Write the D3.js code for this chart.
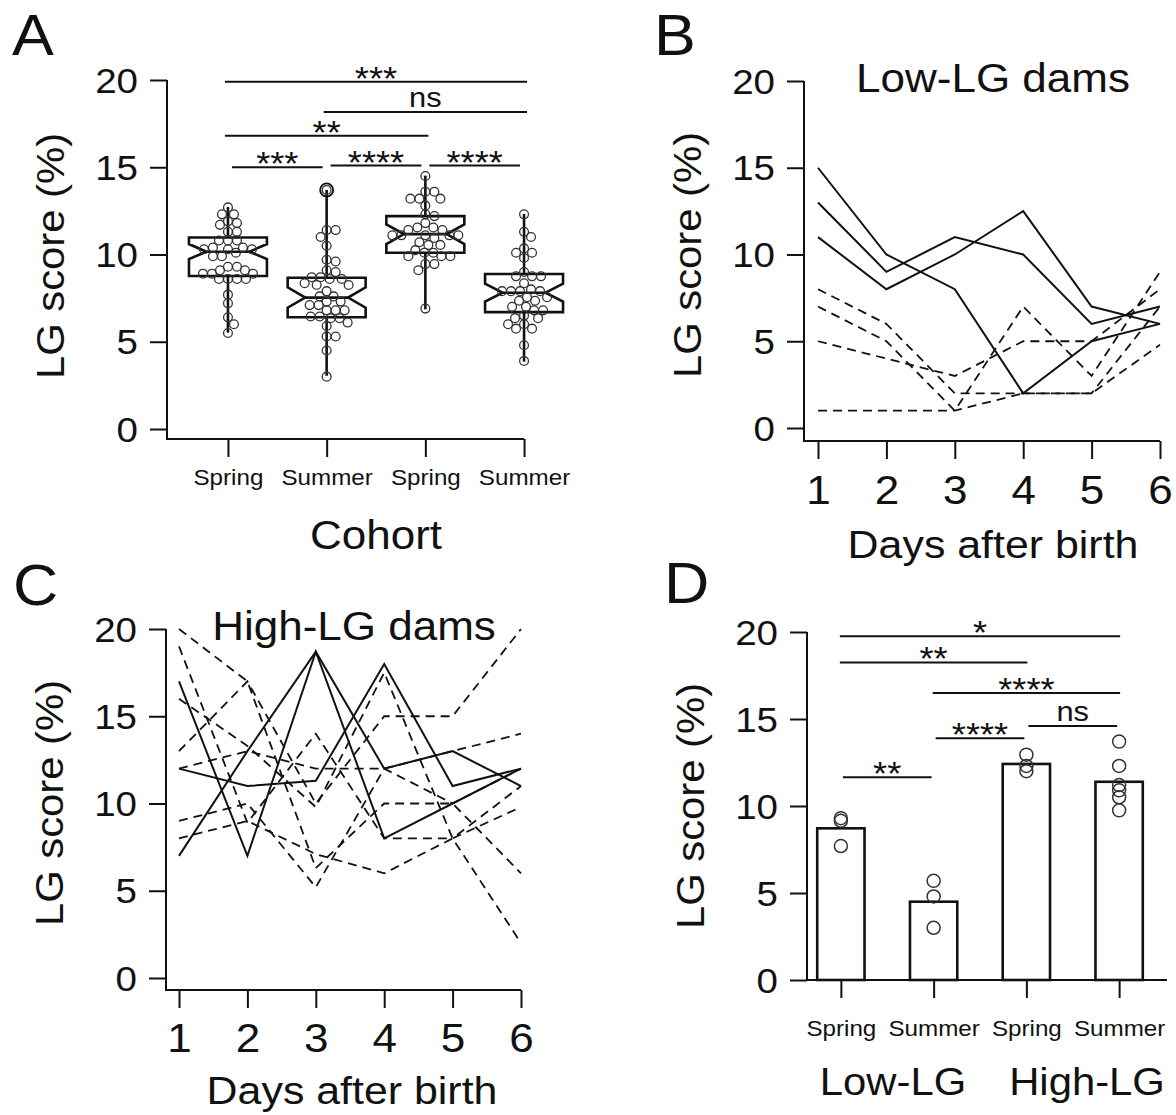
<!DOCTYPE html>
<html>
<head>
<meta charset="utf-8">
<script src="https://cdn.jsdelivr.net/npm/d3@7"></script>
<style>
  body { margin: 0; background: #fff; }
  svg { display: block; }
  text { font-family: "Liberation Sans", Arial, Helvetica, sans-serif; fill: #111; }
</style>
</head>
<body>
<svg id="fig" width="1176" height="1115"></svg>
<script>
// ---- data -----------------------------------------------------------------

const cohortLabels = ['Spring', 'Summer', 'Spring', 'Summer'];
const scoreTicks = [0, 5, 10, 15, 20];
const days = [1, 2, 3, 4, 5, 6];

// Panel A: LG score of every dam, per cohort.
const cohortScores = [
  [12.7, 12.3, 12.3, 11.9, 11.8, 11.7, 11.3, 11.3, 10.8, 10.8, 10.8, 10.4,
    10.4, 10.3, 10.3, 10.3, 10.1, 9.9, 9.9, 9.3, 9.3, 9.1, 9.1, 8.9, 8.9, 8.9,
    8.6, 8.6, 8.6, 8.6, 7.7, 7.2, 6.4, 6.0, 5.5],
  [13.7, 11.4, 11.4, 11.0, 10.5, 9.7, 9.6, 9.1, 9.0, 8.7, 8.7, 8.6, 8.6, 8.35,
    8.25, 8.25, 7.9, 7.6, 7.6, 7.3, 7.3, 7.1, 7.1, 6.8, 6.8, 6.8, 6.45, 6.45,
    6.35, 6.35, 6.1, 5.9, 5.3, 5.3, 4.5, 3.0],
  [14.5, 13.6, 13.6, 13.2, 13.2, 13.2, 12.8, 12.3, 12.2, 11.8, 11.55, 11.55,
    11.4, 11.4, 11.1, 11.1, 11.1, 11.1, 11.1, 10.95, 10.7, 10.55, 10.55, 10.25,
    10.1, 10.1, 9.9, 9.9, 9.9, 9.45, 9.45, 9.1, 6.9],
  [12.3, 11.3, 11.0, 10.35, 10.1, 10.1, 9.8, 9.0, 8.75, 8.75, 8.75, 8.35, 8.0,
    7.9, 7.9, 7.9, 7.9, 7.55, 7.55, 7.35, 7.35, 7.0, 7.0, 6.8, 6.8, 6.5, 6.35,
    6.35, 6.0, 6.0, 5.75, 5.75, 4.8, 3.9],
];

// Notched box summaries.
const boxMin = [5.52, 3.05, 6.86, 3.86];
const boxQ1 = [8.77, 6.4, 10.1, 6.7];
const boxMedian = [10.16, 7.53, 11.17, 7.81];
const boxQ3 = [10.97, 8.67, 12.2, 8.88];
const boxMax = [12.72, 13.7, 14.52, 12.32];
const notchLow = [9.74, 6.95, 10.6, 7.3];
const notchHigh = [10.6, 8.12, 11.72, 8.33];
const cohortOutliers = [[], [13.7], [], []];

const cohortTests = [
  {from: 0, to: 3, y: 19.9, label: '***'},
  {from: 1, to: 3, y: 18.17, label: 'ns'},
  {from: 0, to: 2, y: 16.8, label: '**'},
  {from: 0, to: 1, y: 15.0, label: '***'},
  {from: 1, to: 2, y: 15.1, label: '****'},
  {from: 2, to: 3, y: 15.1, label: '****'},
];

// Panel B: low-LG dams, days 1-6.
const lowSolid = [
  [15, 10, 8, 2, 5, 6],
  [13, 9, 11, 10, 6, 7],
  [11, 8, 10, 12.5, 7, 6],
];
const lowDashed = [
  [8, 6, 2, 2, 2, 4.8],
  [7, 5, 1, 7, 3, 9],
  [5, 4, 3, 5, 5, 8],
  [1, 1, 1, 2, 2, 7],
];

// Panel C: high-LG dams, days 1-6.
const highSolid = [
  [12, 11, 11.3, 18, 11, 12],
  [17, 7, 18.7, 8, 10, 12],
  [7, 13, 18.7, 12, 13, 11],
];
const highDashed = [
  [20, 17, 6.3, 10, 10, 6],
  [19, 8.9, 14, 8, 8, 9.8],
  [16, 13.3, 9.8, 17.5, 8, 2],
  [13, 17, 10, 15, 15, 20],
  [12, 13, 12, 12, 13, 14],
  [9, 10, 5.2, 12, 10, 12],
  [8, 9, 7.1, 6, 8, 11],
];

// Panel D: mean LG score per dam group.
const damScores = [
  [9.3, 9.15, 7.7],
  [5.7, 4.8, 3.0],
  [12.95, 12.3, 12.0],
  [13.7, 12.3, 11.2, 10.9, 10.5, 9.75],
];
const damTests = [
  {from: 0, to: 3, y: 19.75, label: '*'},
  {from: 0, to: 2, y: 18.25, label: '**'},
  {from: 1, to: 3, y: 16.5, label: '****'},
  {from: 2, to: 3, y: 14.6, label: 'ns'},
  {from: 1, to: 2, y: 13.9, label: '****'},
  {from: 0, to: 1, y: 11.65, label: '**'},
];

// ---- helpers --------------------------------------------------------------

const INK = '#111';
// The source figure's lettering is a little wider than Arial.
const STRETCH = 1.1;

const svg = d3.select('#fig');
svg.append('rect').attr('width', 1176).attr('height', 1115).attr('fill', '#fff');

function addText(parent, x, y, str, size, anchor = 'middle', angle = 0) {
  return parent.append('text')
    .attr('transform', `translate(${x},${y}) rotate(${angle}) scale(${STRETCH},1)`)
    .attr('text-anchor', anchor)
    .style('font-size', `${size}px`)
    .text(str);
}

// L-shaped frame: y axis from the top tick down to the x axis, then right.
function frame(g, x0, yTop, yBottom, xEnd) {
  g.append('path')
    .attr('d', `M${x0},${yTop} V${yBottom} H${xEnd}`)
    .attr('fill', 'none')
    .attr('stroke', INK)
    .attr('stroke-width', 2);
}

function yAxis(g, y, x0) {
  const ax = g.append('g')
    .attr('transform', `translate(${x0},0)`)
    .call(d3.axisLeft(y).tickValues(scoreTicks).tickSize(17));
  ax.select('.domain').remove();
  ax.selectAll('.tick line').attr('stroke', INK).attr('stroke-width', 2);
  ax.selectAll('.tick text')
    .attr('x', null)
    .attr('dy', null)
    .attr('transform', `translate(-29,12) scale(${STRETCH},1)`)
    .style('font-size', '35px');
}

function xAxis(g, x, y0, values, fmt, size, labelDy) {
  const ax = g.append('g')
    .attr('transform', `translate(0,${y0})`)
    .call(d3.axisBottom(x).tickValues(values).tickFormat(fmt).tickSize(18));
  ax.select('.domain').remove();
  ax.selectAll('.tick line').attr('stroke', INK).attr('stroke-width', 2);
  ax.selectAll('.tick text')
    .attr('y', null)
    .attr('dy', null)
    .attr('transform', `translate(0,${labelDy}) scale(${STRETCH},1)`)
    .style('font-size', `${size}px`);
}

function brackets(g, x, y, tests, adjInset, wideInset) {
  tests.forEach((t) => {
    const inset = Math.abs(t.to - t.from) === 1 ? adjInset : wideInset;
    const x1 = x(t.from) + inset;
    const x2 = x(t.to) - inset;
    const ly = y(t.y);
    g.append('line')
      .attr('x1', x1).attr('x2', x2)
      .attr('y1', ly).attr('y2', ly)
      .attr('stroke', INK)
      .attr('stroke-width', 2);
    const isNs = t.label === 'ns';
    addText(g, (x1 + x2) / 2, ly + (isNs ? -5 : 8), t.label, isNs ? 28 : 33);
  });
}

// Simple deterministic beeswarm: each point takes the x offset nearest to the
// centre line that does not collide with points already placed.
function swarm(values, cx, y, minDist) {
  const placed = [];
  const order = d3.range(values.length)
    .sort((a, b) => d3.descending(values[a], values[b]));
  order.forEach((i) => {
    const py = y(values[i]);
    let px = cx;
    for (let k = 0; k < 200; k++) {
      const dx = (k % 2 ? 1 : -1) * Math.ceil(k / 2);
      const free = placed.every(
        (p) => (p.x - (cx + dx)) ** 2 + (p.y - py) ** 2 >= minDist * minDist);
      if (free) {
        px = cx + dx;
        break;
      }
    }
    placed.push({x: px, y: py});
  });
  return placed;
}

function linePanel(g, x, y, solid, dashed) {
  const line = d3.line().x((d, i) => x(days[i])).y((d) => y(d));
  g.append('g').selectAll('path')
    .data(dashed)
    .join('path')
    .attr('d', line)
    .attr('fill', 'none')
    .attr('stroke', INK)
    .attr('stroke-width', 1.8)
    .attr('stroke-dasharray', '9,6');
  g.append('g').selectAll('path')
    .data(solid)
    .join('path')
    .attr('d', line)
    .attr('fill', 'none')
    .attr('stroke', INK)
    .attr('stroke-width', 2);
}

// ---- panel A: cohort box plots -------------------------------------------

const gA = svg.append('g');
const yA = d3.scaleLinear().domain([0, 20]).range([429, 80]);
const xA = d3.scalePoint().domain(d3.range(4)).range([178.6, 573.4]).padding(0.5);

frame(gA, 167, yA(20), 439, xA(3));
yAxis(gA, yA, 167);
xAxis(gA, xA, 439, xA.domain(), (i) => cohortLabels[i], 22, 46);

const halfBox = xA.step() * 0.395;
const halfNotch = halfBox * 0.55;

cohortScores.forEach((scores, i) => {
  const cx = xA(i);
  const box = gA.append('g');
  const stroke = (s) => s.attr('fill', 'none').attr('stroke', INK).attr('stroke-width', 2.6);

  box.append('path')
    .attr('d', [
      `M${cx - halfBox},${yA(boxQ3[i])}`,
      `H${cx + halfBox}`,
      `V${yA(notchHigh[i])}`,
      `L${cx + halfNotch},${yA(boxMedian[i])}`,
      `L${cx + halfBox},${yA(notchLow[i])}`,
      `V${yA(boxQ1[i])}`,
      `H${cx - halfBox}`,
      `V${yA(notchLow[i])}`,
      `L${cx - halfNotch},${yA(boxMedian[i])}`,
      `L${cx - halfBox},${yA(notchHigh[i])}`,
      'Z',
    ].join(' '))
    .call(stroke);
  box.append('line')
    .attr('x1', cx - halfNotch).attr('x2', cx + halfNotch)
    .attr('y1', yA(boxMedian[i])).attr('y2', yA(boxMedian[i]))
    .call(stroke);
  box.append('line')
    .attr('x1', cx).attr('x2', cx)
    .attr('y1', yA(boxQ3[i])).attr('y2', yA(boxMax[i]))
    .call(stroke);
  box.append('line')
    .attr('x1', cx).attr('x2', cx)
    .attr('y1', yA(boxQ1[i])).attr('y2', yA(boxMin[i]))
    .call(stroke);

  box.append('g').selectAll('circle')
    .data(swarm(scores, cx, yA, 8.6))
    .join('circle')
    .attr('cx', (d) => d.x)
    .attr('cy', (d) => d.y)
    .attr('r', 4.4)
    .attr('fill', 'none')
    .attr('stroke', '#333')
    .attr('stroke-width', 1.3);

  box.append('g').selectAll('circle')
    .data(cohortOutliers[i])
    .join('circle')
    .attr('cx', cx)
    .attr('cy', (d) => yA(d))
    .attr('r', 6.5)
    .attr('fill', 'none')
    .attr('stroke', INK)
    .attr('stroke-width', 1.8);
});

brackets(gA, xA, yA, cohortTests, 4, -3);

addText(gA, 12, 55, 'A', 57, 'start');
addText(gA, 64, 256, 'LG score (%)', 38, 'middle', -90);
addText(gA, 376, 549, 'Cohort', 40);

// ---- panel B: low-LG dams --------------------------------------------------

const gB = svg.append('g');
const yB = d3.scaleLinear().domain([0, 20]).range([428, 81]);
const xB = d3.scaleLinear().domain([1, 6]).range([818, 1160]);

frame(gB, 804, yB(20), 441, xB(6));
yAxis(gB, yB, 804);
xAxis(gB, xB, 441, days, d3.format('d'), 40, 63);
linePanel(gB, xB, yB, lowSolid, lowDashed);

addText(gB, 654, 55, 'B', 57, 'start');
addText(gB, 701, 255, 'LG score (%)', 38, 'middle', -90);
addText(gB, 993, 92, 'Low-LG dams', 40);
addText(gB, 993, 558, 'Days after birth', 39);

// ---- panel C: high-LG dams -------------------------------------------------

const gC = svg.append('g');
const yC = d3.scaleLinear().domain([0, 20]).range([978, 629]);
const xC = d3.scaleLinear().domain([1, 6]).range([179, 521]);

frame(gC, 166, yC(20), 990, xC(6));
yAxis(gC, yC, 166);
xAxis(gC, xC, 990, days, d3.format('d'), 40, 62);
linePanel(gC, xC, yC, highSolid, highDashed);

addText(gC, 13, 605, 'C', 57, 'start');
addText(gC, 63, 803, 'LG score (%)', 38, 'middle', -90);
addText(gC, 354, 640, 'High-LG dams', 40);
addText(gC, 352, 1104, 'Days after birth', 39);

// ---- panel D: group means ----------------------------------------------------

const gD = svg.append('g');
const yD = d3.scaleLinear().domain([0, 20]).range([980, 632]);
const xD = d3.scalePoint().domain(d3.range(4)).range([794.5, 1165.5]).padding(0.5);
const barWidth = xD.step() * 0.51;

gD.append('g').selectAll('rect')
  .data(damScores)
  .join('rect')
  .attr('x', (d, i) => xD(i) - barWidth / 2)
  .attr('y', (d) => yD(d3.mean(d)))
  .attr('width', barWidth)
  .attr('height', (d) => yD(0) - yD(d3.mean(d)))
  .attr('fill', '#fff')
  .attr('stroke', INK)
  .attr('stroke-width', 2.6);

damScores.forEach((scores, i) => {
  gD.append('g').selectAll('circle')
    .data(scores)
    .join('circle')
    .attr('cx', xD(i))
    .attr('cy', (d) => yD(d))
    .attr('r', 6.5)
    .attr('fill', 'none')
    .attr('stroke', '#333')
    .attr('stroke-width', 1.5);
});

frame(gD, 807, yD(20), yD(0), 1167);
yAxis(gD, yD, 807);
xAxis(gD, xD, 980, xD.domain(), (i) => cohortLabels[i], 22, 56);
brackets(gD, xD, yD, damTests, 2, -1);

addText(gD, 664, 603, 'D', 57, 'start');
addText(gD, 704, 806, 'LG score (%)', 38, 'middle', -90);
addText(gD, 893, 1095, 'Low-LG', 38);
addText(gD, 1087, 1095, 'High-LG', 38);
</script>
</body>
</html>
